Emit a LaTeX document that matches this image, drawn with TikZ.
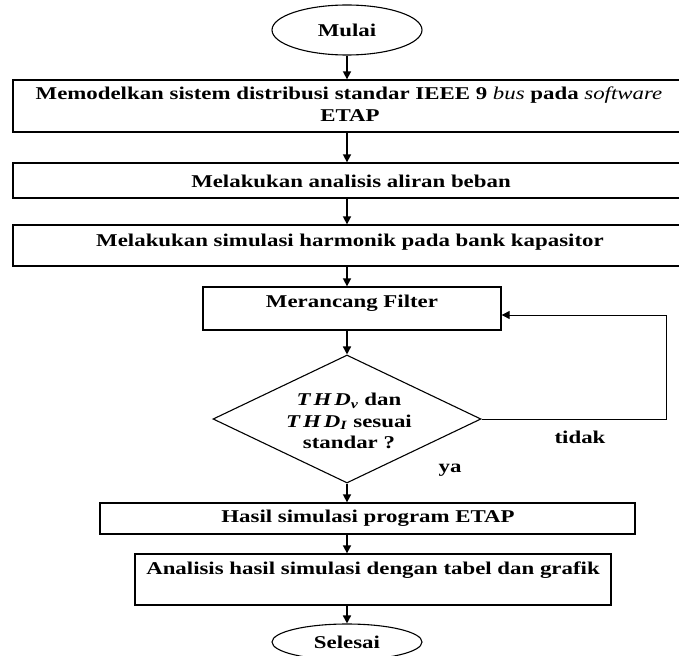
\documentclass[tikz,border=0pt]{standalone}
\usepackage{amsmath,amssymb}
\usepackage{fontspec}
\setmainfont{Liberation Serif}[FakeStretch=1.27]
\usetikzlibrary{arrows.meta,positioning,fit,calc,shapes.geometric}

\begin{document}
\begin{tikzpicture}[x=1pt,y=-1pt,
    stage/.style={draw, line width=1.3pt, inner sep=0pt},
    terminal/.style={draw, ellipse, line width=1.1pt, inner sep=0pt, font=\bfseries\fontsize{18}{21}\selectfont},
    decision/.style={draw, diamond, line width=1.1pt, inner sep=0pt, aspect=2.1},
    txt/.style={inner sep=0pt, font=\bfseries\fontsize{18}{21.5}\selectfont},
    flow/.style={-{Triangle[length=8pt,width=8pt]}, line width=1.6pt},
    back/.style={-{Triangle[length=8pt,width=8pt]}, line width=1pt}
]
    \useasboundingbox (0,0) rectangle (679,655);

    \node[terminal, minimum width=150pt, minimum height=50pt] (start) at (347,30) {Mulai};

    \node[stage, fit={(13,80) (700,132)}] (b1) {};
    \node[txt] (t1a) at (349,95) {Memodelkan sistem distribusi standar IEEE 9 {\mdseries\itshape bus} pada {\mdseries\itshape software}};
    \node[txt] (t1b) at (350,116) {ETAP};

    \node[stage, fit={(13,163) (700,198)}] (b2) {};
    \node[txt] (t2) at (351,181) {Melakukan analisis aliran beban};

    \node[stage, fit={(13,225) (700,266)}] (b3) {};
    \node[txt] (t3) at (350,242) {Melakukan simulasi harmonik pada bank kapasitor};

    \node[stage, fit={(203,287) (501,330)}] (b4) {};
    \node[txt] (t4) at (352,303) {Merancang Filter};

    \node[decision, minimum width=268pt, minimum height=128pt] (cek) at (347,419) {};
    \node[txt, align=center] (t5) at (349,421) {\textit{T\,H\,D}\textsubscript{\textit{v}} dan\\\textit{T\,H\,D}\textsubscript{\textit{I}} sesuai\\standar ?};

    \node[stage, fit={(100,503) (635,534)}] (b5) {};
    \node[txt] (t6) at (368,518) {Hasil simulasi program ETAP};

    \node[stage, fit={(135,554) (611,605)}] (b6) {};
    \node[txt] (t7) at (373,570) {Analisis hasil simulasi dengan tabel dan grafik};

    \node[terminal, minimum width=150pt, minimum height=36pt] (finish) at (347,642) {Selesai};

    \node[txt] (tidak) at (580,437) {tidak};
    \node[txt] (ya) at (450,470) {ya};

    \coordinate (turn) at (666,315);

    \draw[flow] (start) -- (start |- b1.north);
    \draw[flow] (b1.south -| start) -- (b2.north -| start);
    \draw[flow] (b2.south -| start) -- (b3.north -| start);
    \draw[flow] (b3.south -| cek) -- (b4.north -| cek);
    \draw[flow] (b4.south -| cek) -- (cek.north);
    \draw[flow] (cek.south) -- (cek.south |- b5.north);
    \draw[flow] (b5.south -| cek) -- (b6.north -| cek);
    \draw[flow] (b6.south -| finish) -- (finish.north);
    \draw[back] (cek.east) -| (turn) -- (turn -| b4.east);
\end{tikzpicture}
\end{document}
